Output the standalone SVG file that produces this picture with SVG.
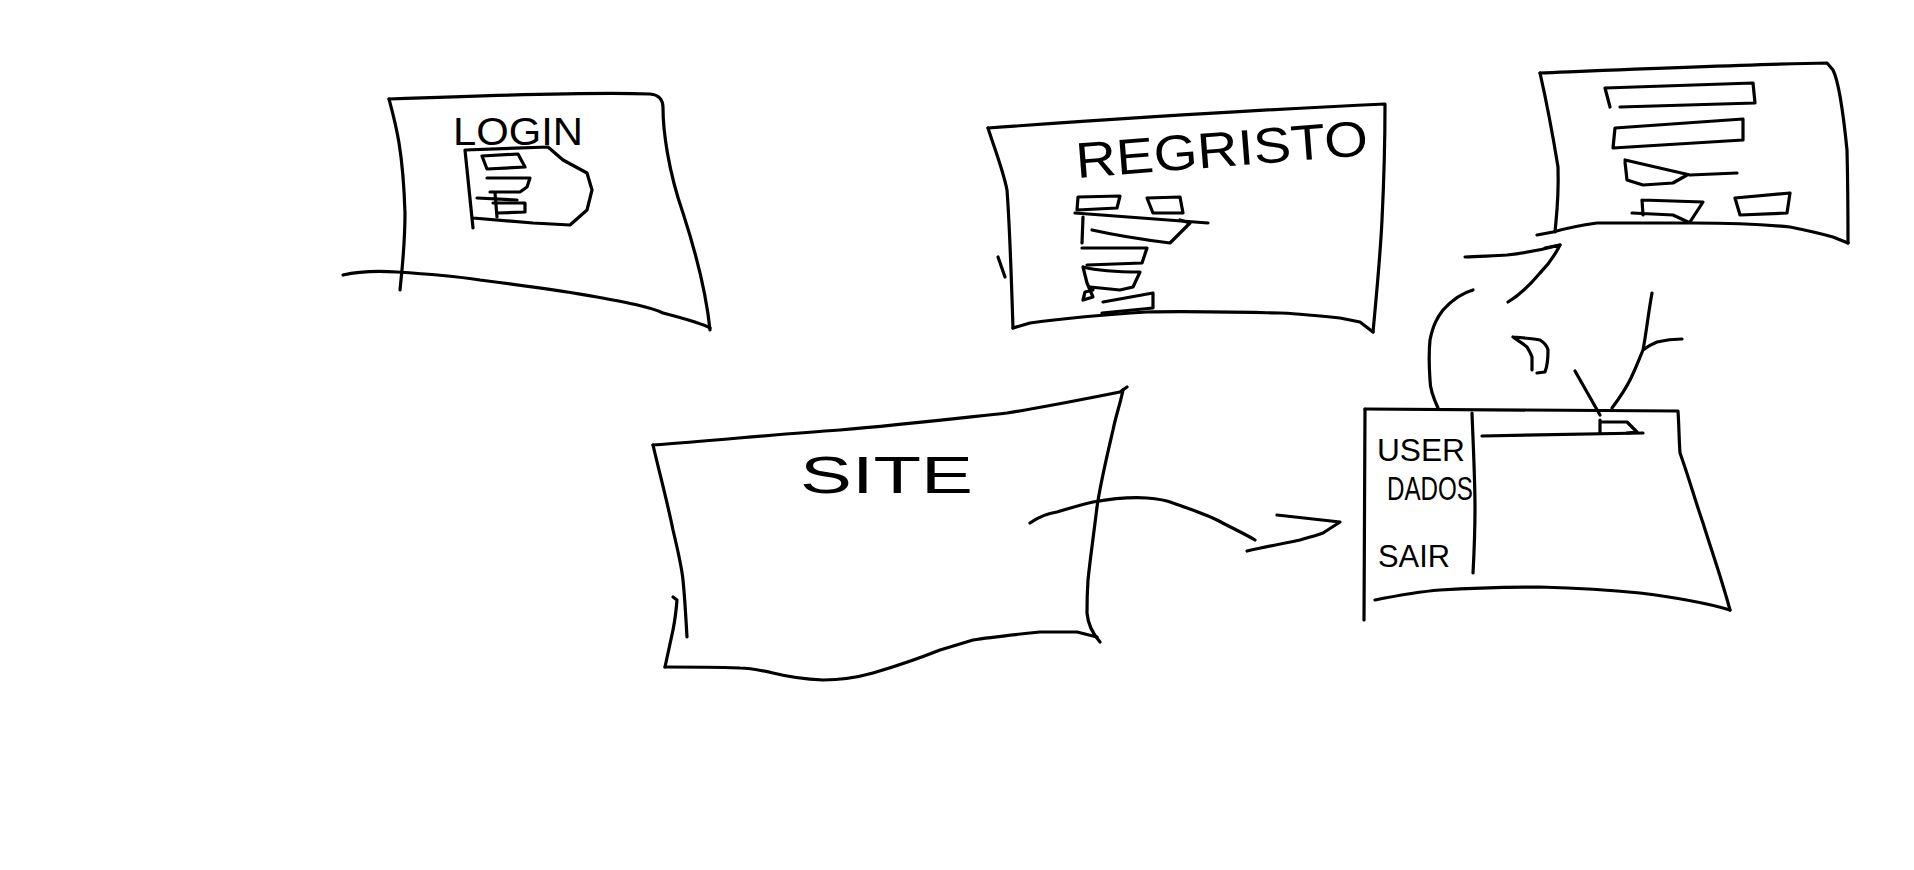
<svg xmlns="http://www.w3.org/2000/svg" width="1914" height="870" viewBox="0 0 1914 870">
<style>
.s{fill:none;stroke:#000;stroke-width:3.2;stroke-linecap:round;stroke-linejoin:round}
.t{font-family:"Liberation Sans",Arial,sans-serif;fill:#000}
</style>
<rect width="1914" height="870" fill="#fff"/>
<g id="login">
<path class="s" d="M389,99 C470,96 600,92 650,94 Q663,95 663,108 C663,130 668,170 683,213 C695,250 706,290 710,330"/>
<path class="s" d="M389,99 C396,125 403,150 405,213 C405,245 402,270 400,290"/>
<path class="s" d="M343,275 C360,271 380,271 397,272 C430,274 460,277 480,280 C520,285 560,290 597,297 C630,303 650,307 663,313 C690,320 705,325 710,328"/>
<path class="s" d="M465,150 L548,147 L563,160 L587,173 L592,190 L587,210 L570,225 L533,223 L473,218 M465,150 L473,228"/>
<path class="s" d="M482,156 L518,154 L525,167 L487,169 Z"/>
<path class="s" d="M487,178 L530,178 L527,187 L520,192 L490,192"/>
<path class="s" d="M493,203 L525,203 L525,212 L497,213"/>
<path class="s" d="M477,198 L517,200 M495,193 L497,217"/>
<text class="t" x="453" y="145" font-size="38" textLength="130" lengthAdjust="spacingAndGlyphs">LOGIN</text>
</g>
<g id="registo">
<path class="s" d="M988,128 C1100,120 1250,110 1385,104 C1385,140 1384,180 1382,220 C1380,260 1376,300 1373,332"/>
<path class="s" d="M988,128 C995,150 1003,170 1007,190 C1010,230 1011,270 1013,328"/>
<path class="s" d="M1373,332 L1360,322 C1350,320 1345,319 1340,318 C1310,315 1290,313 1280,313 C1230,312 1190,311 1147,312 C1100,315 1060,319 1030,323 L1013,328"/>
<path class="s" d="M998,257 L1005,277"/>
<path class="s" d="M1078,197 L1120,196 L1117,208 L1077,210 Z"/>
<path class="s" d="M1147,198 L1180,197 L1183,213 L1153,213 Z"/>
<path class="s" d="M1075,213 L1208,223"/>
<path class="s" d="M1083,217 L1082,243 M1092,230 C1110,234 1130,238 1170,243 L1190,223 L1180,220"/>
<path class="s" d="M1082,248 L1147,248 L1142,263 L1087,265"/>
<path class="s" d="M1083,267 C1095,270 1110,272 1140,272 L1133,287 L1120,290 L1090,287 M1083,267 L1087,283 L1093,297 L1083,300 L1085,292 L1093,290"/>
<path class="s" d="M1103,302 L1153,293 L1153,308 L1102,313"/>
<text class="t" x="1077" y="178" font-size="50" textLength="293" lengthAdjust="spacingAndGlyphs" transform="rotate(-4.5 1077 178)">REGRISTO</text>
</g>
<g id="form">
<path class="s" d="M1540,73 C1640,69 1760,64 1827,63 L1833,70 C1838,80 1842,100 1847,150 C1848,190 1848,220 1848,243"/>
<path class="s" d="M1540,73 C1545,95 1552,130 1558,167 C1559,200 1556,220 1555,232"/>
<path class="s" d="M1848,243 L1833,237 C1815,232 1800,229 1790,227 C1760,224 1720,223 1693,223 C1660,223 1620,223 1597,223 C1575,226 1560,230 1553,232 L1537,235"/>
<path class="s" d="M1545,248 L1560,245"/>
<path class="s" d="M1605,88 L1753,83 L1755,103 L1620,107 M1605,88 L1610,107"/>
<path class="s" d="M1615,128 L1743,119 L1743,140 L1613,148 Z"/>
<path class="s" d="M1625,160 L1690,175 L1737,173 M1625,162 L1627,180 L1643,185 L1673,183 L1687,175"/>
<path class="s" d="M1642,200 L1703,202 L1690,222 M1632,213 L1673,215 L1688,222 M1642,200 L1643,215"/>
<path class="s" d="M1735,198 L1790,193 L1787,213 L1740,215 Z"/>
</g>
<g id="site">
<path class="s" d="M653,445 C720,440 780,434 840,430 C900,425 960,418 1007,413 C1050,406 1090,398 1120,392 L1127,387"/>
<path class="s" d="M1123,390 C1120,405 1116,415 1113,430 C1106,460 1100,485 1097,507 C1093,540 1090,560 1088,580 C1087,595 1087,605 1087,613 C1088,625 1092,633 1100,642"/>
<path class="s" d="M1097,637 L1077,632 C1060,632 1050,632 1040,632 C1010,635 990,637 973,640 C960,644 950,647 940,650 C915,660 890,668 873,673 C855,678 840,680 823,680 C800,679 785,676 773,673 C760,670 750,668 740,668 C710,667 690,667 665,667"/>
<path class="s" d="M653,445 C660,475 668,505 673,530 C679,555 682,570 683,580 C685,600 686,620 687,637"/>
<path class="s" d="M673,597 L677,600 C676,612 675,620 673,630 L665,667"/>
<text class="t" x="800" y="493" font-size="52" textLength="173" lengthAdjust="spacingAndGlyphs">SITE</text>
</g>
<g id="user">
<path class="s" d="M1365,409 L1678,411 C1679,425 1679,440 1680,453 C1688,475 1695,500 1703,523 C1712,552 1722,580 1730,610"/>
<path class="s" d="M1365,409 L1364,620"/>
<path class="s" d="M1375,600 C1395,596 1415,592 1440,590 C1470,588 1505,587 1540,587 C1575,588 1610,590 1640,593 C1680,598 1710,604 1730,610"/>
<path class="s" d="M1472,413 C1473,440 1475,480 1475,507 C1475,530 1474,555 1473,573"/>
<path class="s" d="M1482,436 L1643,433"/>
<path class="s" d="M1600,420 L1600,433 M1600,422 L1627,422 L1637,432 L1627,433"/>
<text class="t" x="1377" y="461" font-size="31" textLength="88" lengthAdjust="spacingAndGlyphs">USER</text>
<text class="t" x="1387" y="500" font-size="33" textLength="86" lengthAdjust="spacingAndGlyphs">DADOS</text>
<text class="t" x="1378" y="567" font-size="31" textLength="72" lengthAdjust="spacingAndGlyphs">SAIR</text>
</g>
<g id="connectors">
<path class="s" d="M1030,523 C1040,516 1050,513 1057,512 C1070,508 1080,505 1093,502 C1110,499 1130,497 1147,498 C1160,499 1168,501 1173,503 C1190,509 1205,514 1217,520 C1230,527 1245,534 1255,540"/>
<path class="s" d="M1247,551 C1265,547 1285,543 1300,540 C1310,537 1318,535 1323,533 L1340,522 L1277,515"/>
<path class="s" d="M1438,408 C1432,395 1430,385 1430,380 C1429,365 1429,350 1430,340 C1433,325 1437,318 1443,310 C1452,300 1462,293 1473,290"/>
<path class="s" d="M1465,257 C1480,256 1495,256 1507,255 C1525,253 1545,249 1560,245 C1555,255 1548,265 1540,273 C1530,285 1518,296 1508,302"/>
<path class="s" d="M1513,337 C1525,338 1535,339 1540,340 C1545,343 1547,346 1548,350 C1548,360 1547,367 1545,372 L1537,373 M1513,337 C1520,342 1525,345 1527,347 C1530,352 1531,354 1532,357 L1532,370"/>
<path class="s" d="M1652,293 C1648,315 1646,335 1643,350 C1638,362 1635,370 1630,380 C1624,392 1618,400 1612,408 M1643,350 C1648,346 1652,344 1657,342 C1665,340 1673,339 1682,339"/>
<path class="s" d="M1575,371 L1600,415"/>
</g>
</svg>
